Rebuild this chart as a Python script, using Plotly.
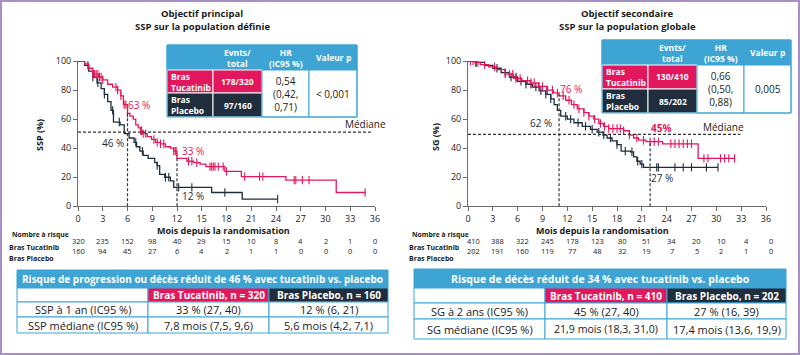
import plotly.graph_objects as go
import bisect

W, H = 800, 355
FONT = "Open Sans"
PINK = "#E3185C"
DARK = "#1F2D3C"
BLUE = "#3DA4D3"
AXC = "#6b6b6b"
TXT = "#1b1b1b"
PURPLE = "#A58FC6"

# ---------------- data ----------------
# Left: SSP (PFS) population définie
pfs_tuc_t = [0, 0.8, 1.3, 1.8, 2.5, 3.0, 3.6, 4.2, 4.8, 5.2, 5.5, 6.0, 6.3, 6.7, 7.0, 7.3, 7.6, 7.8, 8.4, 8.9, 9.4, 10.0, 10.6, 11.2, 11.6, 12.0, 13.2, 14.0, 14.8, 15.5, 17.8, 19.8, 25.2, 31.3, 34.9]
pfs_tuc_s = [100, 98, 95, 91, 89, 87, 84, 82, 80, 76, 70, 64, 62, 60, 56, 54, 52, 50, 48, 46, 44, 43, 41, 40, 38, 33, 31, 30, 29, 27.3, 24, 20.4, 18, 9.5, 9.5]
pfs_tuc_cens = [1.8, 2.0, 2.2, 2.4, 2.6, 2.8, 3.0, 4.6, 4.8, 5.2, 5.6, 5.8, 6.0, 7.6, 7.7, 7.9, 8.2, 9.2, 9.6, 10.0, 10.4, 11.6, 11.8, 11.9, 13.4, 13.8, 14.4, 16.0, 16.2, 16.4, 16.6, 17.0, 17.6, 18.0, 20.2, 22.0, 22.4, 26.2, 26.4, 27.2, 28.0, 34.8]
pfs_pla_t = [0, 0.8, 1.3, 1.8, 2.3, 2.8, 3.2, 3.6, 4.0, 4.3, 5.1, 5.6, 6.2, 6.8, 7.1, 7.5, 7.9, 8.5, 9.3, 9.6, 9.9, 10.5, 11.2, 11.6, 16.2, 19.9, 24.2]
pfs_pla_s = [100, 97, 93, 89, 85, 81, 77, 72, 66, 58, 56, 50, 47, 44, 41, 38, 35, 33, 30, 28, 22, 20, 17.5, 13, 9.5, 5, 5]
pfs_pla_cens = [1.2, 1.8, 2.4, 3.2, 4.2, 5.0, 7.0, 7.8, 9.6, 10.6, 11.0, 12.2, 13.8, 17.8, 24.2]

# Right: SG (OS) population globale
os_tuc_t = [0, 0.8, 1.5, 2.5, 3.5, 4.5, 5.5, 6.5, 7.5, 8.5, 9.5, 10.3, 11.0, 11.8, 12.5, 13.2, 14.0, 14.6, 15.2, 15.8, 16.4, 17.0, 18.8, 19.5, 20.0, 20.6, 21.5, 23.5, 27.8, 32.2]
os_tuc_s = [100, 99, 97.5, 96, 94, 91, 88, 86.5, 85, 82.5, 80, 78, 76, 73, 70, 67, 64.5, 62, 60, 57, 55, 53.5, 52, 49, 47, 45.5, 44.5, 43, 33, 33]
os_tuc_cens = [0.3, 0.6, 0.9, 1.2, 2.0, 3.2, 4.5, 5.0, 5.4, 5.8, 6.3, 7.2, 7.6, 8.0, 8.6, 9.0, 9.6, 10.2, 10.8, 11.5, 12.2, 12.8, 13.4, 14.0, 14.6, 15.3, 16.0, 16.5, 17.0, 17.5, 18.0, 18.4, 18.8, 19.5, 20.4, 21.2, 22.0, 22.5, 23.0, 24.5, 25.0, 25.5, 26.0, 26.5, 27.0, 28.5, 29.0, 30.5, 31.0, 31.5, 32.2]
os_pla_t = [0, 1.0, 2.0, 3.0, 4.0, 5.0, 6.0, 7.0, 7.8, 8.6, 9.4, 10.0, 10.4, 10.8, 11.2, 12.0, 12.8, 13.8, 14.8, 15.6, 16.3, 16.8, 17.4, 18.0, 18.5, 19.6, 20.0, 20.4, 20.8, 21.2, 30.2]
os_pla_s = [100, 99, 97, 95, 92, 89, 86, 84, 82, 79.5, 77, 74, 70, 66, 62, 60, 57.5, 55, 53, 51, 49, 47, 45, 42.5, 38, 37.5, 34, 31, 29, 26.8, 26.8]
os_pla_cens = [1.0, 3.5, 4.5, 5.2, 5.8, 6.4, 7.0, 7.6, 8.2, 8.8, 9.4, 10.0, 11.8, 12.4, 13.3, 14.2, 15.0, 15.8, 16.4, 17.2, 18.0, 19.0, 19.8, 20.5, 21.0, 22.8, 23.0, 25.0, 26.0, 27.0, 28.8, 30.2]

x_ticks = list(range(0, 37, 3))
y_ticks = [0, 20, 40, 60, 80, 100]
risk_pfs_tuc = [320, 235, 152, 98, 40, 29, 15, 10, 8, 4, 2, 1, 0]
risk_pfs_pla = [160, 94, 45, 27, 6, 4, 2, 1, 1, 0, 0, 0, 0]
risk_os_tuc = [410, 388, 322, 245, 178, 123, 80, 51, 34, 20, 10, 4, 0]
risk_os_pla = [202, 191, 160, 119, 77, 48, 32, 19, 7, 5, 2, 1, 0]

median_pfs, median_os = 51, 49.5
landmarks_pfs = [(6, 64), (12, 35)]
landmarks_os = [(11, 77), (22, 45)]

# ---------------- helpers ----------------
def X(p):
    return p / W

def Y(p):
    return 1 - p / H

def step_at(ts, ss, c):
    i = bisect.bisect_right(ts, c) - 1
    return ss[max(i, 0)]

fig = go.Figure()

def add_curve(ts, ss, cens, color, xa, ya):
    fig.add_trace(go.Scatter(x=ts, y=ss, mode="lines", line=dict(color=color, width=1.3, shape="hv"),
                             xaxis=xa, yaxis=ya, showlegend=False, hoverinfo="skip"))
    fig.add_trace(go.Scatter(x=cens, y=[step_at(ts, ss, c) for c in cens], mode="markers",
                             marker=dict(symbol="line-ns-open", size=6, color=color,
                                         line=dict(color=color, width=1.1)),
                             xaxis=xa, yaxis=ya, showlegend=False, hoverinfo="skip"))

add_curve(pfs_pla_t, pfs_pla_s, pfs_pla_cens, DARK, "x", "y")
add_curve(pfs_tuc_t, pfs_tuc_s, pfs_tuc_cens, PINK, "x", "y")
add_curve(os_pla_t, os_pla_s, os_pla_cens, DARK, "x2", "y2")
add_curve(os_tuc_t, os_tuc_s, os_tuc_cens, PINK, "x2", "y2")

ydom = [Y(206.3), Y(61)]
axis_common = dict(showgrid=False, zeroline=False, showline=True, linecolor=AXC, linewidth=1, automargin=False,
                   ticks="outside", ticklen=4, tickcolor=AXC, tickfont=dict(family=FONT, size=9, color=TXT))
fig.update_layout(
    xaxis=dict(domain=[X(78), X(375)], range=[0, 36], tickvals=x_ticks, anchor="y", **axis_common),
    yaxis=dict(domain=ydom, range=[0, 100], tickvals=y_ticks, anchor="x", **axis_common),
    xaxis2=dict(domain=[X(468), X(766)], range=[0, 36], tickvals=x_ticks, anchor="y2", **axis_common),
    yaxis2=dict(domain=ydom, range=[0, 100], tickvals=y_ticks, anchor="x2", **axis_common),
)

shapes = []
ann = []

def dash_line(xref, yref, x0, y0, x1, y1):
    shapes.append(dict(type="line", xref=xref, yref=yref, x0=x0, y0=y0, x1=x1, y1=y1,
                       line=dict(color="#333333", width=1.2, dash="3px,2px")))

dash_line("x", "y", 0, median_pfs, 35.5, median_pfs)
for t, top in landmarks_pfs:
    dash_line("x", "y", t, 0, t, top)
dash_line("x2", "y2", 0, median_os, 32.9, median_os)
for t, top in landmarks_os:
    dash_line("x2", "y2", t, 0, t, top)

def text(x, y, s, size=10, color=TXT, bold=False, xanchor="center", yanchor="middle", xref="paper", yref="paper", angle=0, align="center"):
    ann.append(dict(x=x, y=y, xref=xref, yref=yref, text=("<b>%s</b>" % s) if bold else s, showarrow=False,
                    xanchor=xanchor, yanchor=yanchor, textangle=angle, align=align,
                    font=dict(family=FONT, size=size, color=color)))

def rect(x0, y0, x1, y1, fill, line=BLUE, lw=1):
    shapes.append(dict(type="rect", xref="paper", yref="paper", x0=X(x0), x1=X(x1), y0=Y(y1), y1=Y(y0),
                       fillcolor=fill, line=dict(color=line, width=lw), layer="above"))

# Titles
text(X(202), Y(14), "Objectif principal", 9.5, bold=True)
text(X(202), Y(26), "SSP sur la population définie", 9.5, bold=True)
text(X(627), Y(14), "Objectif secondaire", 9.5, bold=True)
text(X(627), Y(26), "SSP sur la population globale", 9.5, bold=True)

# Axis titles
text(X(40), Y(135), "SSP (%)", 9, bold=True, angle=-90)
text(X(436), Y(137), "SG (%)", 9, bold=True, angle=-90)
text(X(223), Y(230.5), "Mois depuis la randomisation", 9, bold=True)
text(X(602), Y(230.5), "Mois depuis la randomisation", 9, bold=True)

# Curve labels
for xr, yr, x, y, s, c, b in [
    ("x", "y", 7.4, 69.5, "63 %", PINK, False),
    ("x", "y", 4.2, 43.8, "46 %", DARK, False),
    ("x", "y", 13.9, 38.3, "33 %", PINK, False),
    ("x", "y", 13.9, 7.1, "12 %", DARK, False),
    ("x2", "y2", 12.5, 80.7, "76 %", PINK, False),
    ("x2", "y2", 8.8, 57.5, "62 %", DARK, False),
    ("x2", "y2", 23.3, 53.7, "45%", PINK, True),
    ("x2", "y2", 23.4, 19.3, "27 %", DARK, False),
]:
    text(x, y, s, 10, color=c, bold=b, xref=xr, yref=yr)
text(X(365), Y(124), "Médiane", 10)
text(X(723), Y(127), "Médiane", 10)

# Number at risk
for x0, xr, tuc, pla, sh in [(7, "x", risk_pfs_tuc, risk_pfs_pla, 0), (407, "x2", risk_os_tuc, risk_os_pla, 5)]:
    text(X(x0 + 3), Y(234), "Nombre à risque", 6.8, bold=True, xanchor="left")
    text(X(x0), Y(248), "Bras Tucatinib", 7, bold=True, xanchor="left")
    text(X(x0), Y(258), "Bras Placebo", 7, bold=True, xanchor="left")
    for t, a, b in zip(x_ticks, tuc, pla):
        ann.append(dict(x=t, y=Y(248), xref=xr, yref="paper", text=str(a), showarrow=False, xshift=sh,
                        font=dict(family=FONT, size=7.5, color=TXT)))
        ann.append(dict(x=t, y=Y(258), xref=xr, yref="paper", text=str(b), showarrow=False, xshift=sh,
                        font=dict(family=FONT, size=7.5, color=TXT)))

# Top tables
def top_table(xs, ys, ev_t, ev_p, hr, pval):
    rect(xs[0], ys[0], xs[4], ys[1], BLUE)
    rect(xs[0], ys[1], xs[1], ys[2], PINK, line="white")
    rect(xs[1], ys[1], xs[2], ys[2], PINK, line="white")
    rect(xs[0], ys[2], xs[1], ys[3], DARK, line="white")
    rect(xs[1], ys[2], xs[2], ys[3], DARK, line="white")
    rect(xs[2], ys[1], xs[3], ys[3], "white")
    rect(xs[3], ys[1], xs[4], ys[3], "white")
    rect(xs[0], ys[0], xs[4], ys[3], "rgba(0,0,0,0)")
    hy = (ys[0] + ys[1]) / 2
    text(X((xs[1] + xs[2]) / 2), Y(hy), "Evnts/<br>total", 8.5, "white", True)
    text(X((xs[2] + xs[3]) / 2), Y(hy), "HR<br>(IC95 %)", 8.5, "white", True)
    text(X((xs[3] + xs[4]) / 2), Y(hy), "Valeur p", 8.5, "white", True)
    r1 = (ys[1] + ys[2]) / 2
    r2 = (ys[2] + ys[3]) / 2
    text(X(xs[0] + 2), Y(r1), "Bras<br>Tucatinib", 8.5, "white", True, xanchor="left", align="left")
    text(X(xs[0] + 2), Y(r2), "Bras<br>Placebo", 8.5, "white", True, xanchor="left", align="left")
    text(X((xs[1] + xs[2]) / 2), Y(r1), ev_t, 8.5, "white", True)
    text(X((xs[1] + xs[2]) / 2), Y(r2), ev_p, 8.5, "white", True)
    text(X((xs[2] + xs[3]) / 2), Y((ys[1] + ys[3]) / 2), hr, 10)
    text(X((xs[3] + xs[4]) / 2), Y((ys[1] + ys[3]) / 2), pval, 10)

top_table([167, 213, 262, 309, 357], [45, 70, 93, 117], "178/320", "97/160", "0,54<br>(0,42,<br>0,71)", "< 0,001")
top_table([602, 648, 697, 744, 791], [40, 65, 89, 113], "130/410", "85/202", "0,66<br>(0,50,<br>0,88)", "0,005")

# Bottom tables
def bottom_table(xs, ys, title, tsize, h1, h2, rows):
    rect(xs[0], ys[0], xs[3], ys[1], BLUE)
    rect(xs[0], ys[1], xs[1], ys[2], "white")
    rect(xs[1], ys[1], xs[2], ys[2], PINK, line=BLUE)
    rect(xs[2], ys[1], xs[3], ys[2], DARK, line=BLUE)
    for i in range(2):
        for j in range(3):
            rect(xs[j], ys[2 + i], xs[j + 1], ys[3 + i], "white")
    text(X((xs[0] + xs[3]) / 2), Y((ys[0] + ys[1]) / 2), title, tsize, "white", True)
    text(X((xs[1] + xs[2]) / 2), Y((ys[1] + ys[2]) / 2), h1, 10, "white", True)
    text(X((xs[2] + xs[3]) / 2), Y((ys[1] + ys[2]) / 2), h2, 10, "white", True)
    for i, r in enumerate(rows):
        for j in range(3):
            text(X((xs[j] + xs[j + 1]) / 2), Y((ys[2 + i] + ys[3 + i]) / 2), r[j], 11 if j != 1 or len(r[j]) < 20 else 10.6)

bottom_table([17, 148, 269, 388], [270, 288, 302, 317, 333],
             "Risque de progression ou décès réduit de 46 % avec tucatinib vs. placebo", 10,
             "Bras Tucatinib, n = 320", "Bras Placebo, n = 160",
             [["SSP à 1 an (IC95 %)", "33 % (27, 40)", "12 % (6, 21)"],
              ["SSP médiane (IC95 %)", "7,8 mois (7,5, 9,6)", "5,6 mois (4,2, 7,1)"]])
bottom_table([414, 545, 667, 786], [269, 288, 303, 319, 339],
             "Risque de décès réduit de 34 % avec tucatinib vs. placebo", 10.5,
             "Bras Tucatinib, n = 410", "Bras Placebo, n = 202",
             [["SG à 2 ans (IC95 %)", "45 % (27, 40)", "27 % (16, 39)"],
              ["SG médiane (IC95 %)", "21,9 mois (18,3, 31,0)", "17,4 mois (13,6, 19,9)"]])

# Outer border
shapes.append(dict(type="rect", xref="paper", yref="paper", x0=X(1), x1=X(799), y0=Y(354), y1=Y(1),
                   line=dict(color=PURPLE, width=2), fillcolor="rgba(0,0,0,0)"))

fig.update_layout(width=W, height=H, margin=dict(l=0, r=0, t=0, b=0, pad=0, autoexpand=False),
                  paper_bgcolor="white", plot_bgcolor="white", shapes=shapes, annotations=ann,
                  showlegend=False, font=dict(family=FONT, color=TXT))
fig.write_html("out.html", config={"displayModeBar": False},
               post_script="document.body.style.margin='0';document.body.style.overflow='hidden';")
